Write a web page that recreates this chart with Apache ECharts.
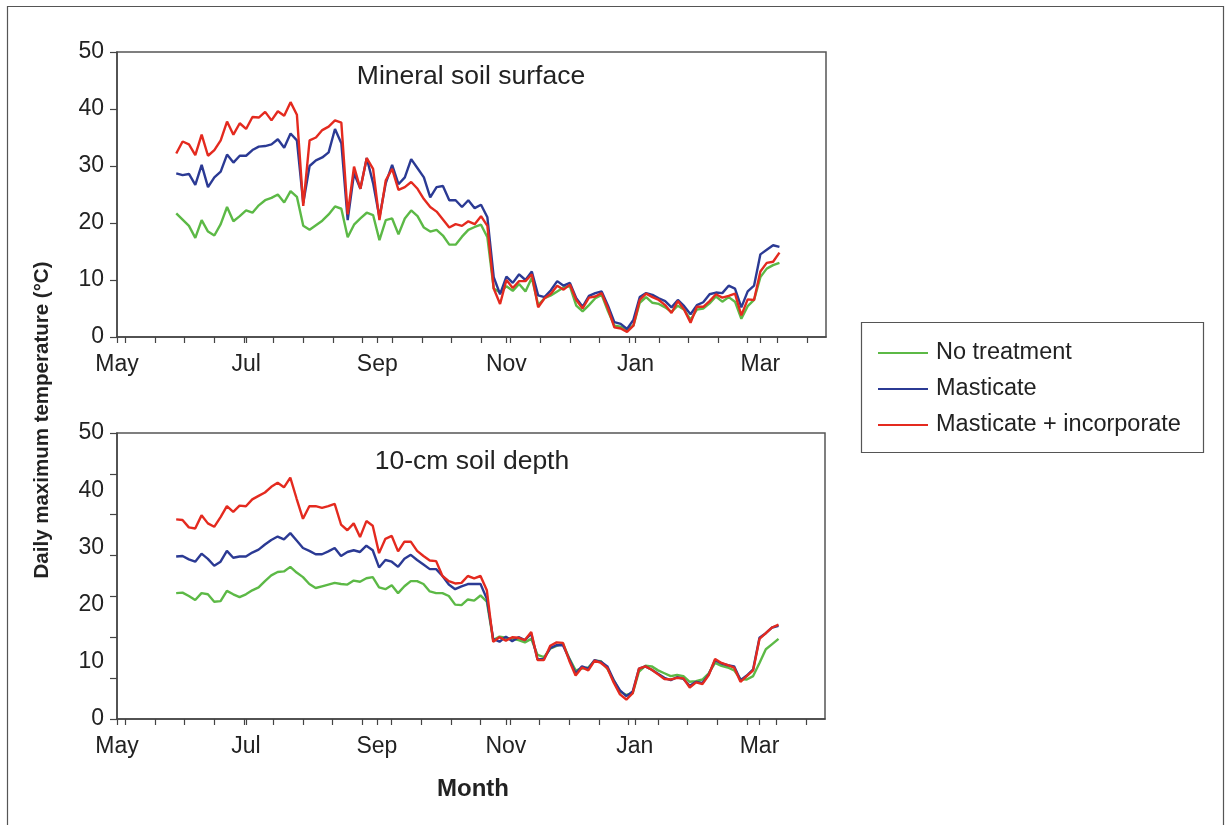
<!DOCTYPE html>
<html><head><meta charset="utf-8">
<script src="https://cdn.jsdelivr.net/npm/echarts@6/dist/echarts.min.js"></script>
<style>html,body{margin:0;padding:0;background:#fff}#c{width:1227px;height:825px}</style>
</head><body><div id="c"></div>
<script>
// Days counted from 1 May (day 0)
const monthNames = ['May','Jul','Sep','Nov','Jan','Mar'];
const monthDays = [0, 61, 123, 184, 245, 304];
const minorTickDays = [4,18,32,46,60,74,88,102,116,130,144,158,172,186,200,214,228,242,256,270,284,298,312,326];
const yLabels = [0,10,20,30,40,50];
const days = [28,31,34,37,40,43,46,49,52,55,58,61,64,67,70,73,76,79,82,85,88,91,94,97,100,103,106,109,112,115,118,121,124,127,130,133,136,139,142,145,148,151,154,157,160,163,166,169,172,175,178,181,184,187,190,193,196,199,202,205,208,211,214,217,220,223,226,229,232,235,238,241,244,247,250,253,256,259,262,265,268,271,274,277,280,283,286,289,292,295,298,301,304,307,310,313];

// Mineral soil surface
const surfNone = [21.7,20.6,19.5,17.4,20.5,18.5,17.8,19.8,22.8,20.3,21.2,22.2,21.8,23.1,24,24.4,25,23.6,25.6,24.6,19.5,18.8,19.6,20.4,21.5,22.9,22.5,17.5,19.7,20.8,21.8,21.4,17,20.5,20.8,18,20.8,22.2,21.2,19.2,18.5,18.8,17.8,16.2,16.2,17.6,18.8,19.3,19.7,17.5,8.5,7.8,8.9,8.1,9.3,8,10.4,5.6,6.8,7.3,8,8.7,8.9,5.5,4.5,5.6,6.8,7.4,4.5,2,1.8,1.3,2,6,7,6,5.8,5.2,4.4,5.5,4.8,3,4.8,5,5.9,7.1,6.2,7,6.2,3.2,5.4,6.5,10.5,12,12.6,13];
const surfMast = [28.7,28.4,28.6,26.7,30.2,26.3,28,29,32,30.6,31.8,31.8,32.8,33.4,33.5,33.8,34.7,33.2,35.7,34.5,23.5,30,31,31.5,32.4,36.5,34,20.5,28.7,26,31.4,27,21,27,30.2,26.8,28,31.2,29.6,28,24.5,26.3,26.5,24,24,22.8,24,22.6,23.2,21,10.5,7.5,10.6,9.5,11,10,11.5,7.3,7,8.2,9.8,9,9.5,6.8,5.3,7.2,7.7,8,5.5,2.6,2.3,1.4,3,7,7.7,7.4,6.8,6.3,5.2,6.5,5.4,4,5.6,6.1,7.5,7.8,7.7,9,8.5,5.2,8,9,14.5,15.3,16.1,15.8];
const surfMastInc = [32.2,34.3,33.8,31.9,35.5,31.8,32.8,34.5,37.8,35.5,37.5,36.5,38.6,38.5,39.5,38,39.6,38.8,41.2,39,23,34.5,35,36.3,36.9,38,37.6,21.5,29.9,26,31.4,29.5,20.5,27.5,29.5,25.8,26.3,27.2,26,24.2,22.8,22,20.6,19.2,19.8,19.5,20.3,19.8,21.2,19.5,8.5,5.8,10,8.6,9.8,9.8,11,5.2,6.8,7.6,9,8.3,9.2,6.5,5,6.9,7.1,7.7,5,1.7,1.5,0.9,2,6.5,7.6,7,6.5,5.6,4.2,6.3,4.8,2.5,5.3,5.3,6.3,7.5,6.9,7.2,7.6,3.8,6.6,6.5,11.5,13,13.2,14.8];

// 10-cm soil depth
const depthNone = [22,22.1,21.5,20.8,22,21.8,20.5,20.6,22.4,21.8,21.3,21.8,22.5,23,24.1,25.1,25.7,25.8,26.6,25.6,24.8,23.6,22.9,23.2,23.5,23.8,23.6,23.5,24.2,24,24.6,24.8,23,22.7,23.4,22,23.2,24.1,24.1,23.6,22.3,22,22,21.5,20,19.9,20.9,20.7,21.6,20.5,13.8,14.4,14.2,14,13.8,13.4,14,11.2,10.8,12.3,12.8,13.2,10.6,8.5,8.8,9,10.2,10.1,8.8,6.8,4.8,4.2,4.5,8.3,9.3,9.2,8.5,8,7.5,7.7,7.5,6.5,6.6,6.9,8,9.8,9.3,9,8.5,7,6.9,7.5,9.8,12.2,13.1,14];
const depthMast = [28.4,28.5,27.9,27.5,28.9,28,26.8,27.5,29.4,28.2,28.4,28.4,29.1,29.6,30.5,31.3,31.9,31.4,32.5,31.2,29.9,29.4,28.8,28.8,29.3,29.9,28.5,29.2,29.5,29.2,30.3,29.5,26.5,27.8,27.5,26.6,28,28.7,27.8,27,26.2,26.2,25,23.5,22.7,23.2,23.6,23.6,23.6,21,14,13.5,14.4,13.6,14.3,13.8,14.9,10.4,10.5,12.4,12.9,12.9,10.5,8,9.2,8.8,10.3,10,9.2,6.8,5,4,4.8,8.8,9.2,8.6,7.9,7.2,6.8,7.3,7,5.8,6.5,6.3,7.8,10.3,9.7,9.4,9.2,6.8,7.6,8.7,14.2,15,16,16.3];
const depthMastInc = [34.9,34.8,33.5,33.3,35.6,34.2,33.6,35.3,37.2,36.2,37.3,37.2,38.4,39,39.6,40.6,41.3,40.5,42.2,38.5,35,37.2,37.2,36.9,37.2,37.6,34,33,34.2,31.8,34.6,33.8,29,31.5,32,29.3,31,31,29.4,28.5,27.7,27.6,25,24.1,23.7,23.8,25,24.6,25,22.5,13.5,14.3,13.7,14.3,14.2,13.8,15.2,10.3,10.3,12.8,13.4,13.3,10.2,7.6,9,8.5,10.2,9.8,8.9,6.4,4.3,3.4,4.5,8.8,9.2,8.6,7.8,7,6.9,7.2,7.1,5.5,6.4,6.1,7.7,10.5,9.8,9.4,9,6.5,7.5,8.5,14,15,16,16.5];

const seriesNames = ['No treatment','Masticate','Masticate + incorporate'];
const colors = ['#5cb946','#2b3a94','#e42a1f'];

function pairs(vals){ return days.map((d,i)=>[d, vals[i]]); }
const bottomTicks = [0,1,2,3,4,5,6,7].map(k=>50*k/7);

const fontFam = '"Liberation Sans", Arial, sans-serif';
function xAxisFor(gi){
  return {
    type:'value', gridIndex:gi, min:0, max:335,
    axisLine:{show:true, lineStyle:{color:'#444', width:1.5}},
    axisTick:{show:true, inside:false, length:6, customValues: monthDays.concat(minorTickDays), lineStyle:{color:'#444', width:1.2}},
    axisLabel:{customValues: monthDays, formatter: v => monthNames[monthDays.indexOf(v)], color:'#222', fontSize:23, fontFamily:fontFam, margin:16},
    splitLine:{show:false}
  };
}
function yAxisFor(gi, tickVals){
  return {
    type:'value', gridIndex:gi, min:0, max:50,
    axisLine:{show:true, lineStyle:{color:'#444', width:1.5}},
    axisTick:{show:true, length:7, customValues: tickVals, lineStyle:{color:'#444', width:1.2}},
    axisLabel:{customValues: yLabels, color:'#222', fontSize:23, fontFamily:fontFam, margin:13},
    splitLine:{show:false}
  };
}
const series = [];
[[surfNone,surfMast,surfMastInc],[depthNone,depthMast,depthMastInc]].forEach((set,gi)=>{
  set.forEach((vals,si)=>{
    series.push({type:'line', name:seriesNames[si], xAxisIndex:gi, yAxisIndex:gi, data:pairs(vals), showSymbol:false, symbol:'none',
      lineStyle:{color:colors[si], width:2.4}, itemStyle:{color:colors[si]}, animation:false, z: 2+si});
  });
});

const chart = echarts.init(document.getElementById('c'), null, {renderer:'canvas'});
chart.setOption({
  backgroundColor:'#fff',
  animation:false,
  grid:[
    {left:117, top:52, width:709, height:285, show:true, borderColor:'#555', borderWidth:1.5, backgroundColor:'transparent'},
    {left:117, top:433, width:708, height:286, show:true, borderColor:'#555', borderWidth:1.5, backgroundColor:'transparent'}
  ],
  xAxis:[xAxisFor(0), xAxisFor(1)],
  yAxis:[yAxisFor(0, yLabels), yAxisFor(1, bottomTicks)],
  legend:{
    orient:'vertical', left:873, top:336, itemWidth:50, itemHeight:2, icon:'rect', itemGap:12,
    textStyle:{fontSize:23.5, color:'#222', fontFamily:fontFam, padding:[0,0,0,3]},
    data: seriesNames.map((n,i)=>({name:n, itemStyle:{color:colors[i]}}))
  },
  series: series,
  graphic:[
    {type:'rect', left:5, top:4, shape:{width:1216, height:830}, style:{fill:'none', stroke:'#555', lineWidth:1.2}, silent:true, z:-1},
    {type:'rect', left:859, top:320, shape:{width:342, height:130}, style:{fill:'none', stroke:'#555', lineWidth:1.2}, silent:true},
    {type:'text', x:471, y:77, style:{text:'Mineral soil surface', font:'26.5px '+fontFam, fill:'#222', textAlign:'center', textVerticalAlign:'middle'}},
    {type:'text', x:472, y:462, style:{text:'10-cm soil depth', font:'26.5px '+fontFam, fill:'#222', textAlign:'center', textVerticalAlign:'middle'}},
    {type:'text', x:473, y:789, style:{text:'Month', font:'bold 24px '+fontFam, fill:'#222', textAlign:'center', textVerticalAlign:'middle'}},
    {type:'text', x:42, y:420, rotation:Math.PI/2, style:{text:'Daily maximum temperature (\u00B0C)', font:'bold 20.5px '+fontFam, fill:'#222', textAlign:'center', textVerticalAlign:'middle'}}
  ]
});
</script></body></html>
